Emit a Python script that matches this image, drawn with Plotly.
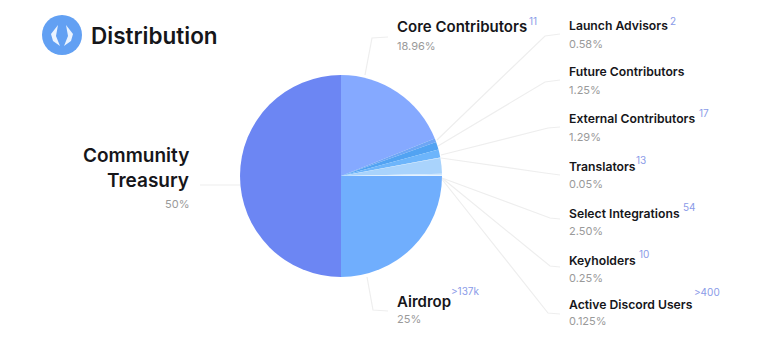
import plotly.graph_objects as go

W, H = 763, 357
categories = ["Core Contributors", "Launch Advisors", "Future Contributors", "External Contributors",
              "Translators", "Select Integrations", "Keyholders", "Active Discord Users",
              "Airdrop", "Community Treasury"]
values = [18.96, 0.58, 1.25, 1.29, 0.05, 2.50, 0.25, 0.125, 25, 50]
value_labels = ["18.96%", "0.58%", "1.25%", "1.29%", "0.05%", "2.50%", "0.25%", "0.125%", "25%", "50%"]
counts = ["11", "2", "", "17", "13", "54", "10", ">400", ">137k", ""]
colors = ["#85a9ff", "#6ea6f5", "#52a3f2", "#6db5fb", "#c5e2fd", "#a9d3fc", "#cfe7fe", "#e3f2ff",
          "#70aefd", "#6c86f3"]

def X(p): return p / W
def Y(p): return 1 - p / H

fig = go.Figure(go.Pie(
    labels=categories, values=values, sort=False, direction="clockwise", rotation=0,
    marker=dict(colors=colors, line=dict(width=0)),
    textinfo="none", hoverinfo="label+percent", showlegend=False,
    domain=dict(x=[X(240), X(442)], y=[Y(277), Y(75)]),
))

shapes, ann = [], []
def line(pts):
    d = "M" + " L".join(f"{X(x):.5f},{Y(y):.5f}" for x, y in pts)
    shapes.append(dict(type="path", path=d, xref="paper", yref="paper",
                       line=dict(color="#eeeeee", width=1.2), layer="below"))
for pts in [
    [(365, 75), (372, 38), (388, 37)],
    [(437, 140), (545, 36), (560, 34)],
    [(438, 146), (545, 82), (560, 80)],
    [(441, 155), (548, 128), (560, 127)],
    [(441, 158), (545, 173), (560, 175)],
    [(442, 178), (550, 218), (560, 219)],
    [(442, 178), (550, 266), (560, 267)],
    [(441, 178), (548, 313), (560, 314)],
    [(367, 277), (373, 310), (388, 311)],
    [(200, 185), (240, 185)],
]:
    line(pts)

def text(x, y, s, size, color, weight=400, anchor="left", family="Inter"):
    ann.append(dict(x=X(x), y=Y(y), xref="paper", yref="paper", text=s, showarrow=False,
                    xanchor=anchor, yanchor="middle", align=anchor,
                    font=dict(family=family, size=size, color=color, weight=weight),
                    borderpad=0, borderwidth=0))

GREY = "#9a9a9a"; BLUE = "#8a9be8"; BLACK = "#16161a"
# logo
shapes.append(dict(type="circle", xref="paper", yref="paper", x0=X(42), x1=X(82), y0=Y(55), y1=Y(15),
                   fillcolor="#62a0f3", line=dict(width=0)))
for d in [[(58, 25), (51, 34), (53, 41), (60, 46), (56, 36)], [(66, 25), (73, 34), (71, 41), (64, 46), (68, 36)]]:
    shapes.append(dict(type="path", xref="paper", yref="paper", fillcolor="#eaf3ff", line=dict(width=0),
                       path="M" + " L".join(f"{X(x):.5f},{Y(y):.5f}" for x, y in d) + " Z"))
text(91, 36, "Distribution", 22.5, BLACK, 600)

# large labels
text(397, 27, categories[0], 15, BLACK, 600)
text(397, 46, value_labels[0], 11, GREY)
text(529, 21, counts[0], 10, BLUE)
text(397, 301, categories[8], 15, BLACK, 600)
text(397, 319, value_labels[8], 11, GREY)
text(451, 291, counts[8], 10, BLUE)
text(189, 155, "Community", 19, BLACK, 600, "right")
text(189, 180, "Treasury", 19, BLACK, 600, "right")
text(189, 204, value_labels[9], 11, GREY, 400, "right")

# right column: (index, name y, value y, count x, count y)
for i, ny, vy, cx, cy in [
    (1, 26, 44, 670, 21), (2, 72, 90, 0, 0), (3, 119, 137, 699, 113),
    (4, 166, 184, 636, 160), (5, 213, 231, 683, 207), (6, 260, 278, 639, 254),
    (7, 304, 321, 694, 292),
]:
    text(569, ny, categories[i], 12.2, BLACK, 600)
    text(569, vy, value_labels[i], 11, GREY)
    if counts[i]:
        text(cx, cy, counts[i], 10, BLUE)

fig.update_layout(width=W, height=H, autosize=False, margin=dict(l=0, r=0, t=0, b=0),
                  paper_bgcolor="white", plot_bgcolor="white", shapes=shapes, annotations=ann)
fig.write_html("out.html", config=dict(displayModeBar=False),
               post_script="document.body.style.margin='0';document.documentElement.style.overflow='hidden';")
